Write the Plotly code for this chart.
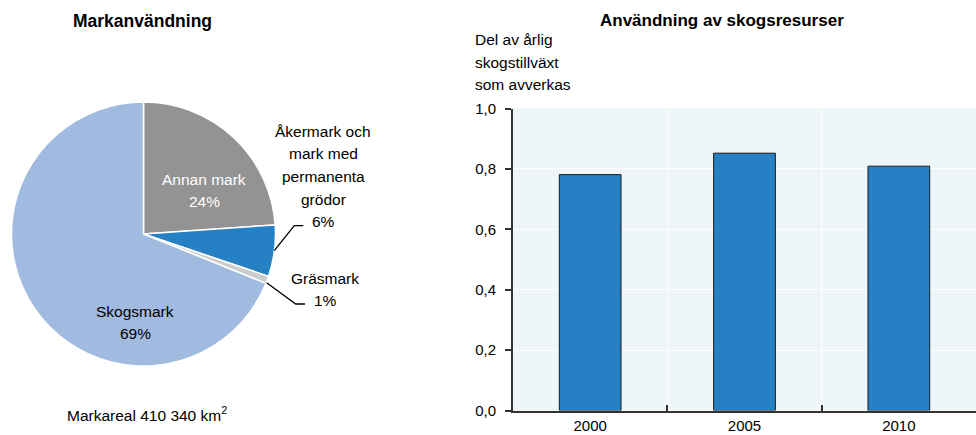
import plotly.graph_objects as go

W, H = 976, 435

# ---- data ----
pie_labels = ["Annan mark", "Åkermark och mark med permanenta grödor", "Gräsmark", "Skogsmark"]
pie_values = [23.9, 6.3, 0.9, 68.9]
pie_colors = ["#939393", "#2581C3", "#CDCDCD", "#A1BAE0"]

bar_years = ["2000", "2005", "2010"]
bar_values = [0.781, 0.852, 0.809]
y_ticks = [0.0, 0.2, 0.4, 0.6, 0.8, 1.0]
y_ticklabels = ["0,0", "0,2", "0,4", "0,6", "0,8", "1,0"]

FONT = "Liberation Sans, Arial, sans-serif"
FS = 15.5
TFS = 15


def px(x):
    return x / W


def py(y):
    return 1 - y / H


fig = go.Figure()

# pie
cx, cy, r = 143.5, 234, 132
fig.add_trace(go.Pie(
    labels=pie_labels, values=pie_values, sort=False, direction="clockwise", rotation=0,
    marker=dict(colors=pie_colors, line=dict(color="white", width=1.5)),
    textinfo="none", hoverinfo="label+percent", showlegend=False,
    domain=dict(x=[px(cx - r), px(cx + r)], y=[py(cy + r), py(cy - r)]),
))

# bars
fig.add_trace(go.Bar(
    x=bar_years, y=bar_values, width=0.4,
    marker=dict(color="#2581C3", line=dict(color="#1a1a1a", width=1)),
    showlegend=False, xaxis="x", yaxis="y",
))

fig.update_layout(
    width=W, height=H, autosize=False,
    margin=dict(l=0, r=0, t=0, b=0, autoexpand=False),
    paper_bgcolor="white", plot_bgcolor="#EEF6F9",
    font=dict(family=FONT, size=FS, color="#000"),
    xaxis=dict(
        domain=[px(513), 1.0], range=[-0.5, 2.5], type="category", automargin=False,
        tickson="boundaries", ticks="inside", ticklen=6, tickcolor="#333", tickwidth=1.5,
        showgrid=True, gridcolor="white", gridwidth=1,
        showline=True, linecolor="#333", linewidth=2,
        tickfont=dict(family=FONT, size=TFS), fixedrange=True,
    ),
    yaxis=dict(
        domain=[py(410.5), py(108.5)], range=[0, 1], automargin=False,
        tickvals=y_ticks, ticktext=y_ticklabels,
        ticks="outside", ticklen=6, tickcolor="#333", tickwidth=1.5, ticklabelstandoff=6,
        showgrid=True, gridcolor="white", gridwidth=1, zeroline=False,
        showline=True, linecolor="#333", linewidth=2,
        tickfont=dict(family=FONT, size=TFS), fixedrange=True,
    ),
)

ann = []


def text(x, y, t, color="#000", size=FS, xanchor="center"):
    ann.append(dict(x=px(x), y=py(y), xref="paper", yref="paper", text=t, showarrow=False,
                    xanchor=xanchor, yanchor="middle", font=dict(family=FONT, size=size, color=color)))


# titles
text(142, 21, "<b>Markanvändning</b>", size=17.5)
text(722, 21, "<b>Användning av skogsresurser</b>", size=17)

# y-axis label
for i, line in enumerate(["Del av årlig", "skogstillväxt", "som avverkas"]):
    text(473, 39.5 + 22.7 * i, line, xanchor="left")

# pie labels
text(204, 179, "Annan mark", color="white")
text(204, 201, "24%", color="white")
for i, line in enumerate(["Åkermark och", "mark med", "permanenta", "grödor", "6%"]):
    text(323, 131 + 22.7 * i, line)
text(325, 278, "Gräsmark")
text(325, 300, "1%")
text(135, 311, "Skogsmark")
text(135, 333, "69%")
text(147, 414, "Markareal 410 340 km<sup>2</sup>")

fig.update_layout(annotations=ann)


# leader lines
def path(pts):
    d = "M " + " L ".join(f"{px(a)},{py(b)}" for a, b in pts)
    return dict(type="path", xref="paper", yref="paper", path=d, line=dict(color="#000", width=1.3))


fig.update_layout(shapes=[
    path([(274.3, 250.7), (294.3, 225.7), (303.3, 225.7)]),
    path([(266.7, 282.7), (295.7, 304), (305, 304)]),
])

fig.write_html(
    "out.html",
    config={"responsive": False, "displayModeBar": False},
    post_script="document.documentElement.style.margin='0';document.body.style.margin='0';"
                "document.body.style.overflow='hidden';",
)
